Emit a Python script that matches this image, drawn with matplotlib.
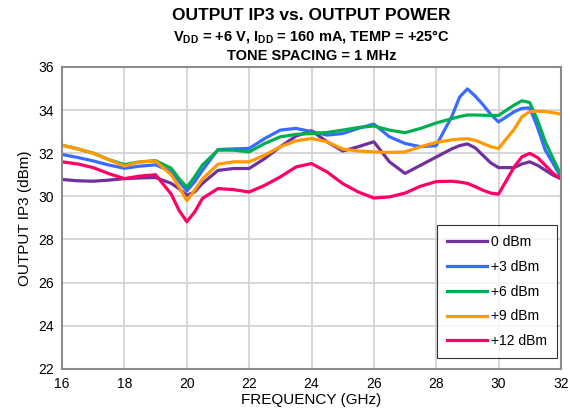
import matplotlib
matplotlib.use("Agg")
import matplotlib.pyplot as plt
import numpy as np

plt.rcParams['font.family'] = ['Liberation Sans', 'DejaVu Sans']
plt.rcParams['mathtext.fontset'] = 'custom'
plt.rcParams['mathtext.rm'] = 'Liberation Sans'
plt.rcParams['mathtext.bf'] = 'Liberation Sans:bold'

# frequency points (GHz), denser where the curves bend sharply
freq = [16, 16.5, 17, 17.5, 18, 18.5, 19, 19.5, 19.75, 20, 20.25, 20.5,
        21, 21.5, 22, 22.5, 23, 23.5, 24, 24.5, 25, 25.5, 26, 26.5, 27, 27.5,
        28, 28.5, 28.75, 29, 29.25, 29.5, 29.75, 30, 30.5, 30.75, 31, 31.25,
        31.5, 31.75, 32]

# output IP3 (dBm) for each output power
p0 = [30.78, 30.72, 30.70, 30.75, 30.82, 30.85, 30.87, 30.60, 30.35, 30.05, 30.20, 30.60,
      31.20, 31.29, 31.29, 31.75, 32.30, 32.79, 33.04, 32.53, 32.10, 32.30, 32.53, 31.60,
      31.06, 31.44, 31.82, 32.20, 32.35, 32.43, 32.25, 31.90, 31.55, 31.33, 31.33, 31.50,
      31.60, 31.44, 31.21, 30.98, 30.82]
p3 = [31.94, 31.80, 31.64, 31.45, 31.30, 31.40, 31.46, 31.15, 30.70, 30.25, 30.67, 31.20,
      32.17, 32.20, 32.22, 32.68, 33.07, 33.15, 33.00, 32.84, 32.91, 33.15, 33.35, 32.76,
      32.45, 32.30, 32.35, 33.70, 34.60, 34.98, 34.65, 34.25, 33.80, 33.45, 33.92, 34.08,
      34.10, 33.20, 32.14, 31.52, 30.90]
p6 = [32.37, 32.20, 32.00, 31.70, 31.47, 31.60, 31.65, 31.30, 30.82, 30.42, 30.90, 31.45,
      32.14, 32.14, 32.06, 32.45, 32.76, 32.87, 32.91, 32.96, 33.07, 33.19, 33.26, 33.07,
      32.95, 33.15, 33.40, 33.60, 33.70, 33.77, 33.77, 33.76, 33.75, 33.75, 34.23, 34.43,
      34.35, 33.53, 32.53, 31.75, 31.00]
p9 = [32.37, 32.20, 32.00, 31.70, 31.40, 31.60, 31.63, 31.00, 30.43, 29.80, 30.28, 30.80,
      31.49, 31.60, 31.60, 31.91, 32.30, 32.57, 32.68, 32.53, 32.19, 32.10, 32.06, 32.03,
      32.06, 32.30, 32.50, 32.62, 32.65, 32.67, 32.60, 32.45, 32.30, 32.22, 33.10, 33.69,
      33.92, 33.95, 33.93, 33.88, 33.81]
p12 = [31.60, 31.50, 31.33, 31.05, 30.82, 30.94, 31.00, 30.10, 29.35, 28.82, 29.27, 29.90,
       30.36, 30.31, 30.20, 30.51, 30.90, 31.36, 31.52, 31.13, 30.59, 30.20, 29.92, 29.97,
       30.15, 30.47, 30.68, 30.70, 30.66, 30.60, 30.45, 30.28, 30.15, 30.10, 31.36, 31.83,
       31.99, 31.80, 31.44, 31.06, 30.82]

labels = ['0 dBm', '+3 dBm', '+6 dBm', '+9 dBm', '+12 dBm']
colors = ['#7030A0', '#3A6BFF', '#00B050', '#FF9900', '#FF0066']
series = [p0, p3, p6, p9, p12]

fig = plt.figure(figsize=(5.7, 4.08), dpi=100)
ax = fig.add_axes([0.109, 0.096, 0.875, 0.740])

for s, c, l in zip(series, colors, labels):
    ax.plot(freq, s, color=c, lw=2.3, label=l, solid_joinstyle='round')

ax.set_xlim(16, 32)
ax.set_ylim(22, 36)
ax.set_xticks(np.arange(16, 33, 2))
ax.set_yticks(np.arange(22, 37, 2))
ax.grid(True, color='#d0d0d0', lw=1.2)
ax.tick_params(length=0, labelsize=10, pad=6)
for sp in ax.spines.values():
    sp.set_color('#8c8c8c')
    sp.set_linewidth(1.5)

ax.set_xlabel('FREQUENCY (GHz)', fontsize=11, labelpad=1)
ax.set_ylabel('OUTPUT IP3 (dBm)', fontsize=11, labelpad=4)

leg = ax.legend(loc='lower right', bbox_to_anchor=(0.992, 0.036), borderaxespad=0,
                fontsize=10, frameon=True, fancybox=False, handlelength=2.9,
                labelspacing=0.78, borderpad=0.7, handletextpad=0.3)
leg.get_frame().set_edgecolor('black')
leg.get_frame().set_linewidth(0.8)

cx = 0.109 + 0.875 / 2
fig.text(cx, 0.963, 'OUTPUT IP3 vs. OUTPUT POWER', ha='center', va='center',
         fontsize=12.5, fontweight='bold')
fig.text(cx, 0.908, r'V$_\mathbf{DD}$ = +6 V, I$_\mathbf{DD}$ = 160 mA, TEMP = +25°C',
         ha='center', va='center', fontsize=10.5, fontweight='bold')
fig.text(cx, 0.862, 'TONE SPACING = 1 MHz', ha='center', va='center',
         fontsize=10.5, fontweight='bold')

fig.savefig('out.png', dpi=100)
